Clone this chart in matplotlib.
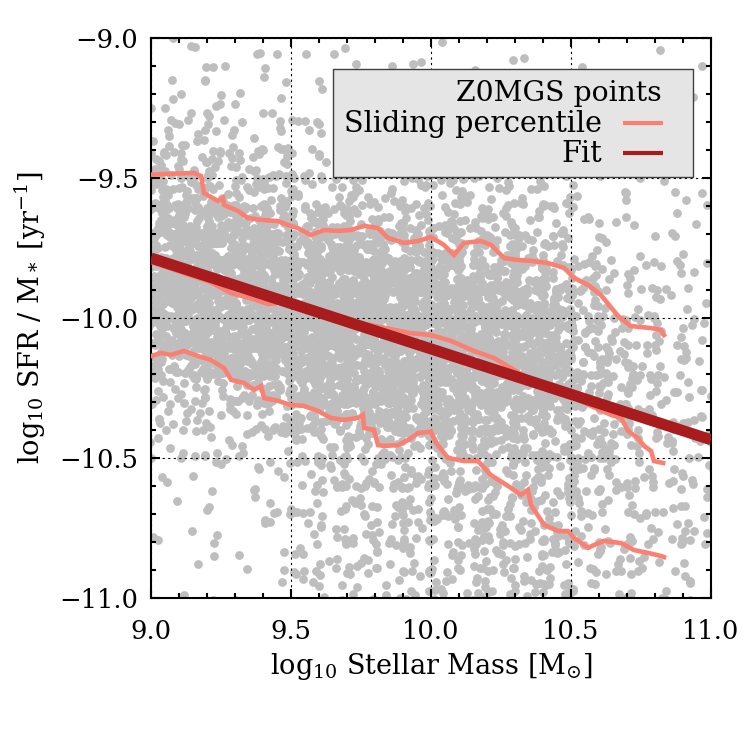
import numpy as np
import matplotlib
matplotlib.use('Agg')
import matplotlib.pyplot as plt
from matplotlib.ticker import MultipleLocator, FuncFormatter
from matplotlib.patches import Rectangle

plt.rcParams['font.family'] = ['DejaVu Serif']
plt.rcParams['mathtext.fontset'] = 'dejavuserif'

# ---------------- data ----------------
# density of Z0MGS points: counts per 0.1 x 0.1 dex cell
cell_x_left = [9.0, 9.1, 9.2, 9.3, 9.4, 9.5, 9.6, 9.7, 9.8, 9.9,
               10.0, 10.1, 10.2, 10.3, 10.4, 10.5, 10.6, 10.7, 10.8, 10.9]
cell_y_top = [-9.0, -9.1, -9.2, -9.3, -9.4, -9.5, -9.6, -9.7, -9.8, -9.9,
              -10.0, -10.1, -10.2, -10.3, -10.4, -10.5, -10.6, -10.7, -10.8, -10.9]
cell_counts = [
    [1, 2, 1, 2, 1, 1, 1, 1, 1, 1, 1, 0, 1, 1, 0, 1, 0, 0, 1, 0],
    [2, 2, 2, 2, 2, 1, 1, 1, 1, 1, 1, 1, 1, 1, 1, 1, 1, 1, 1, 1],
    [4, 4, 3, 3, 3, 2, 2, 2, 2, 2, 2, 2, 2, 1, 1, 1, 1, 1, 1, 1],
    [7, 7, 6, 6, 5, 3, 3, 3, 3, 3, 3, 3, 2, 2, 2, 1, 1, 1, 1, 1],
    [12, 12, 11, 10, 9, 5, 5, 5, 5, 5, 5, 4, 4, 3, 3, 2, 2, 1, 1, 1],
    [20, 20, 18, 15, 13, 9, 9, 8, 8, 8, 8, 8, 7, 6, 6, 3, 2, 2, 2, 2],
    [34, 32, 30, 27, 24, 18, 17, 16, 15, 15, 12, 12, 11, 10, 9, 4, 2, 2, 2, 2],
    [48, 48, 46, 44, 40, 36, 34, 32, 30, 28, 18, 18, 16, 14, 13, 6, 3, 2, 2, 2],
    [55, 55, 55, 55, 50, 50, 48, 48, 46, 42, 36, 34, 32, 28, 24, 9, 5, 3, 3, 3],
    [55, 55, 55, 55, 55, 55, 55, 55, 55, 50, 46, 44, 42, 38, 34, 14, 8, 4, 4, 3],
    [46, 50, 55, 55, 55, 55, 55, 55, 55, 55, 50, 48, 45, 42, 36, 16, 10, 6, 5, 4],
    [24, 30, 38, 46, 50, 55, 55, 55, 55, 50, 46, 46, 44, 40, 36, 18, 12, 8, 6, 5],
    [10, 11, 13, 17, 22, 34, 38, 44, 46, 46, 44, 42, 40, 36, 32, 16, 11, 8, 6, 5],
    [7, 7, 7, 8, 10, 18, 22, 26, 30, 32, 32, 32, 30, 28, 24, 14, 10, 8, 6, 5],
    [5, 5, 5, 5, 6, 12, 13, 14, 16, 18, 22, 22, 22, 20, 18, 12, 9, 7, 6, 5],
    [2, 2, 2, 3, 3, 8, 9, 10, 11, 12, 14, 14, 13, 13, 12, 9, 7, 6, 5, 5],
    [1, 1, 2, 2, 2, 6, 7, 8, 9, 10, 12, 12, 12, 11, 11, 8, 7, 5, 5, 5],
    [1, 1, 2, 2, 3, 6, 7, 7, 8, 9, 11, 11, 11, 11, 10, 8, 6, 5, 5, 4],
    [1, 1, 1, 2, 2, 5, 6, 6, 7, 8, 10, 10, 10, 10, 10, 7, 6, 5, 4, 4],
    [0, 1, 1, 1, 1, 4, 5, 5, 6, 7, 9, 9, 9, 9, 9, 7, 6, 5, 4, 4],
]
cell_size = 0.1

# sliding percentiles
upper_x = [9.000, 9.154, 9.179, 9.189, 9.239, 9.257, 9.261, 9.311, 9.346, 9.393,
           9.454, 9.489, 9.525, 9.571, 9.618, 9.668, 9.714, 9.761, 9.811, 9.846,
           9.904, 9.954, 10.000, 10.046, 10.082, 10.118, 10.179, 10.214, 10.261, 10.311,
           10.357, 10.418, 10.475, 10.511, 10.561, 10.607, 10.668, 10.714, 10.786, 10.821, 10.832]
upper_y = [-9.488, -9.482, -9.493, -9.554, -9.582, -9.571, -9.596, -9.618, -9.643, -9.650,
           -9.654, -9.668, -9.679, -9.704, -9.686, -9.689, -9.686, -9.671, -9.679, -9.714,
           -9.732, -9.725, -9.711, -9.739, -9.775, -9.732, -9.725, -9.739, -9.786, -9.793,
           -9.796, -9.804, -9.821, -9.857, -9.882, -9.918, -9.993, -10.029, -10.036, -10.043, -10.061]

median_x = [9.000, 9.107, 9.211, 9.286, 9.354, 9.418, 9.496, 9.532, 9.618, 9.714,
            9.818, 9.925, 10.000, 10.071, 10.154, 10.225, 10.286, 10.357, 10.454, 10.571,
            10.643, 10.679, 10.704, 10.739, 10.761, 10.786, 10.796, 10.829]
median_y = [-9.800, -9.836, -9.871, -9.911, -9.929, -9.950, -9.943, -9.946, -9.993, -10.011,
            -10.032, -10.054, -10.061, -10.082, -10.118, -10.143, -10.179, -10.221, -10.257, -10.314,
            -10.346, -10.357, -10.404, -10.429, -10.457, -10.475, -10.511, -10.518]

lower_x = [9.000, 9.036, 9.071, 9.118, 9.168, 9.214, 9.261, 9.286, 9.332, 9.368,
           9.393, 9.404, 9.454, 9.500, 9.546, 9.596, 9.643, 9.689, 9.739, 9.757,
           9.761, 9.796, 9.811, 9.832, 9.882, 9.918, 9.954, 10.000, 10.018, 10.061,
           10.118, 10.168, 10.214, 10.286, 10.321, 10.346, 10.357, 10.404, 10.454, 10.489,
           10.511, 10.561, 10.582, 10.618, 10.679, 10.725, 10.775, 10.821, 10.832]
lower_y = [-10.136, -10.125, -10.132, -10.118, -10.136, -10.150, -10.179, -10.221, -10.232, -10.257,
           -10.243, -10.286, -10.296, -10.311, -10.314, -10.332, -10.357, -10.364, -10.357, -10.346,
           -10.393, -10.400, -10.454, -10.457, -10.454, -10.436, -10.411, -10.406, -10.446, -10.500,
           -10.511, -10.511, -10.561, -10.607, -10.632, -10.614, -10.668, -10.739, -10.761, -10.761,
           -10.786, -10.821, -10.811, -10.796, -10.804, -10.829, -10.839, -10.850, -10.854]

# fit line end points
fit_x = [9.0, 11.0]
fit_y = [-9.786, -10.435]

xticks = [9.0, 9.5, 10.0, 10.5, 11.0]
yticks = [-11.0, -10.5, -10.0, -9.5, -9.0]


# ---------------- point layout inside each cell (deterministic hash) ----------------
def _frac_hash(a, b):
    h = np.sin(a * 12.9898 + b * 78.233) * 43758.5453
    return h - np.floor(h)


pts_x, pts_y = [], []
t = 0
for i, row in enumerate(cell_counts):
    for j, n in enumerate(row):
        for k in range(n):
            t += 1
            u = _frac_hash(t, 1.0)
            v = _frac_hash(t, 2.0)
            pts_x.append(cell_x_left[j] + cell_size * (1.2 * u - 0.1))
            pts_y.append(cell_y_top[i] - cell_size * (1.2 * v - 0.1))

# ---------------- figure ----------------
fig = plt.figure(figsize=(7.5, 7.5), dpi=100)
ax = fig.add_axes([0.2013, 0.2027, 0.7467, 0.7467])

ax.scatter(pts_x, pts_y, s=40, c='#bebebe', linewidths=0, zorder=1)

salmon = '#fa8072'
darkred = '#a81c1e'
for xs, ys in ((upper_x, upper_y), (median_x, median_y), (lower_x, lower_y)):
    ax.plot(xs, ys, color=salmon, lw=3.3, zorder=3, solid_joinstyle='miter')
ax.plot(fit_x, fit_y, color=darkred, lw=8, zorder=4, solid_capstyle='butt')

ax.set_xlim(9.0, 11.0)
ax.set_ylim(-11.0, -9.0)
ax.set_xticks(xticks)
ax.set_yticks(yticks)
ax.xaxis.set_minor_locator(MultipleLocator(0.1))
ax.yaxis.set_minor_locator(MultipleLocator(0.1))
fmt = FuncFormatter(lambda v, p: f"{v:.1f}".replace('-', '\u2212'))
ax.xaxis.set_major_formatter(fmt)
ax.yaxis.set_major_formatter(fmt)

ax.tick_params(which='both', direction='in', top=True, right=True, width=1.5, colors='black')
ax.tick_params(which='major', length=6.5)
ax.tick_params(which='minor', length=3.5)
ax.tick_params(axis='x', which='major', pad=15, labelsize=18.5)
ax.tick_params(axis='y', which='major', pad=9, labelsize=18.5)
for sp in ax.spines.values():
    sp.set_linewidth(1.5)

ax.grid(True, which='major', color='black', lw=0.8, linestyle=(0, (2, 3)))
ax.set_axisbelow(False)
for gl in ax.get_xgridlines() + ax.get_ygridlines():
    gl.set_zorder(2.5)

ax.set_xlabel(r'log$_{10}$ Stellar Mass [M$_{\odot}$]', fontsize=19.5, labelpad=5)
ax.set_ylabel(r'log$_{10}$ SFR / M$_*$ [yr$^{-1}$]', fontsize=19.5, labelpad=8)

# legend (manual)
ax.add_patch(Rectangle((0.325, 0.752), 0.643, 0.193, transform=ax.transAxes,
                       facecolor='#e5e5e5', edgecolor='#404040', lw=1.0, zorder=10))
ax.text(0.9125, 0.888, 'Z0MGS points', transform=ax.transAxes, ha='right', va='baseline',
        fontsize=20.3, zorder=11)
ax.text(0.8054, 0.8327, 'Sliding percentile', transform=ax.transAxes, ha='right', va='baseline',
        fontsize=20.6, zorder=11)
ax.text(0.8054, 0.779, 'Fit', transform=ax.transAxes, ha='right', va='baseline',
        fontsize=20.6, zorder=11)
ax.plot([0.843, 0.914], [0.848, 0.848], transform=ax.transAxes, color=salmon, lw=3, zorder=11,
        solid_capstyle='butt')
ax.plot([0.843, 0.914], [0.7946, 0.7946], transform=ax.transAxes, color=darkred, lw=3, zorder=11,
        solid_capstyle='butt')

fig.savefig('out.png', dpi=100)
